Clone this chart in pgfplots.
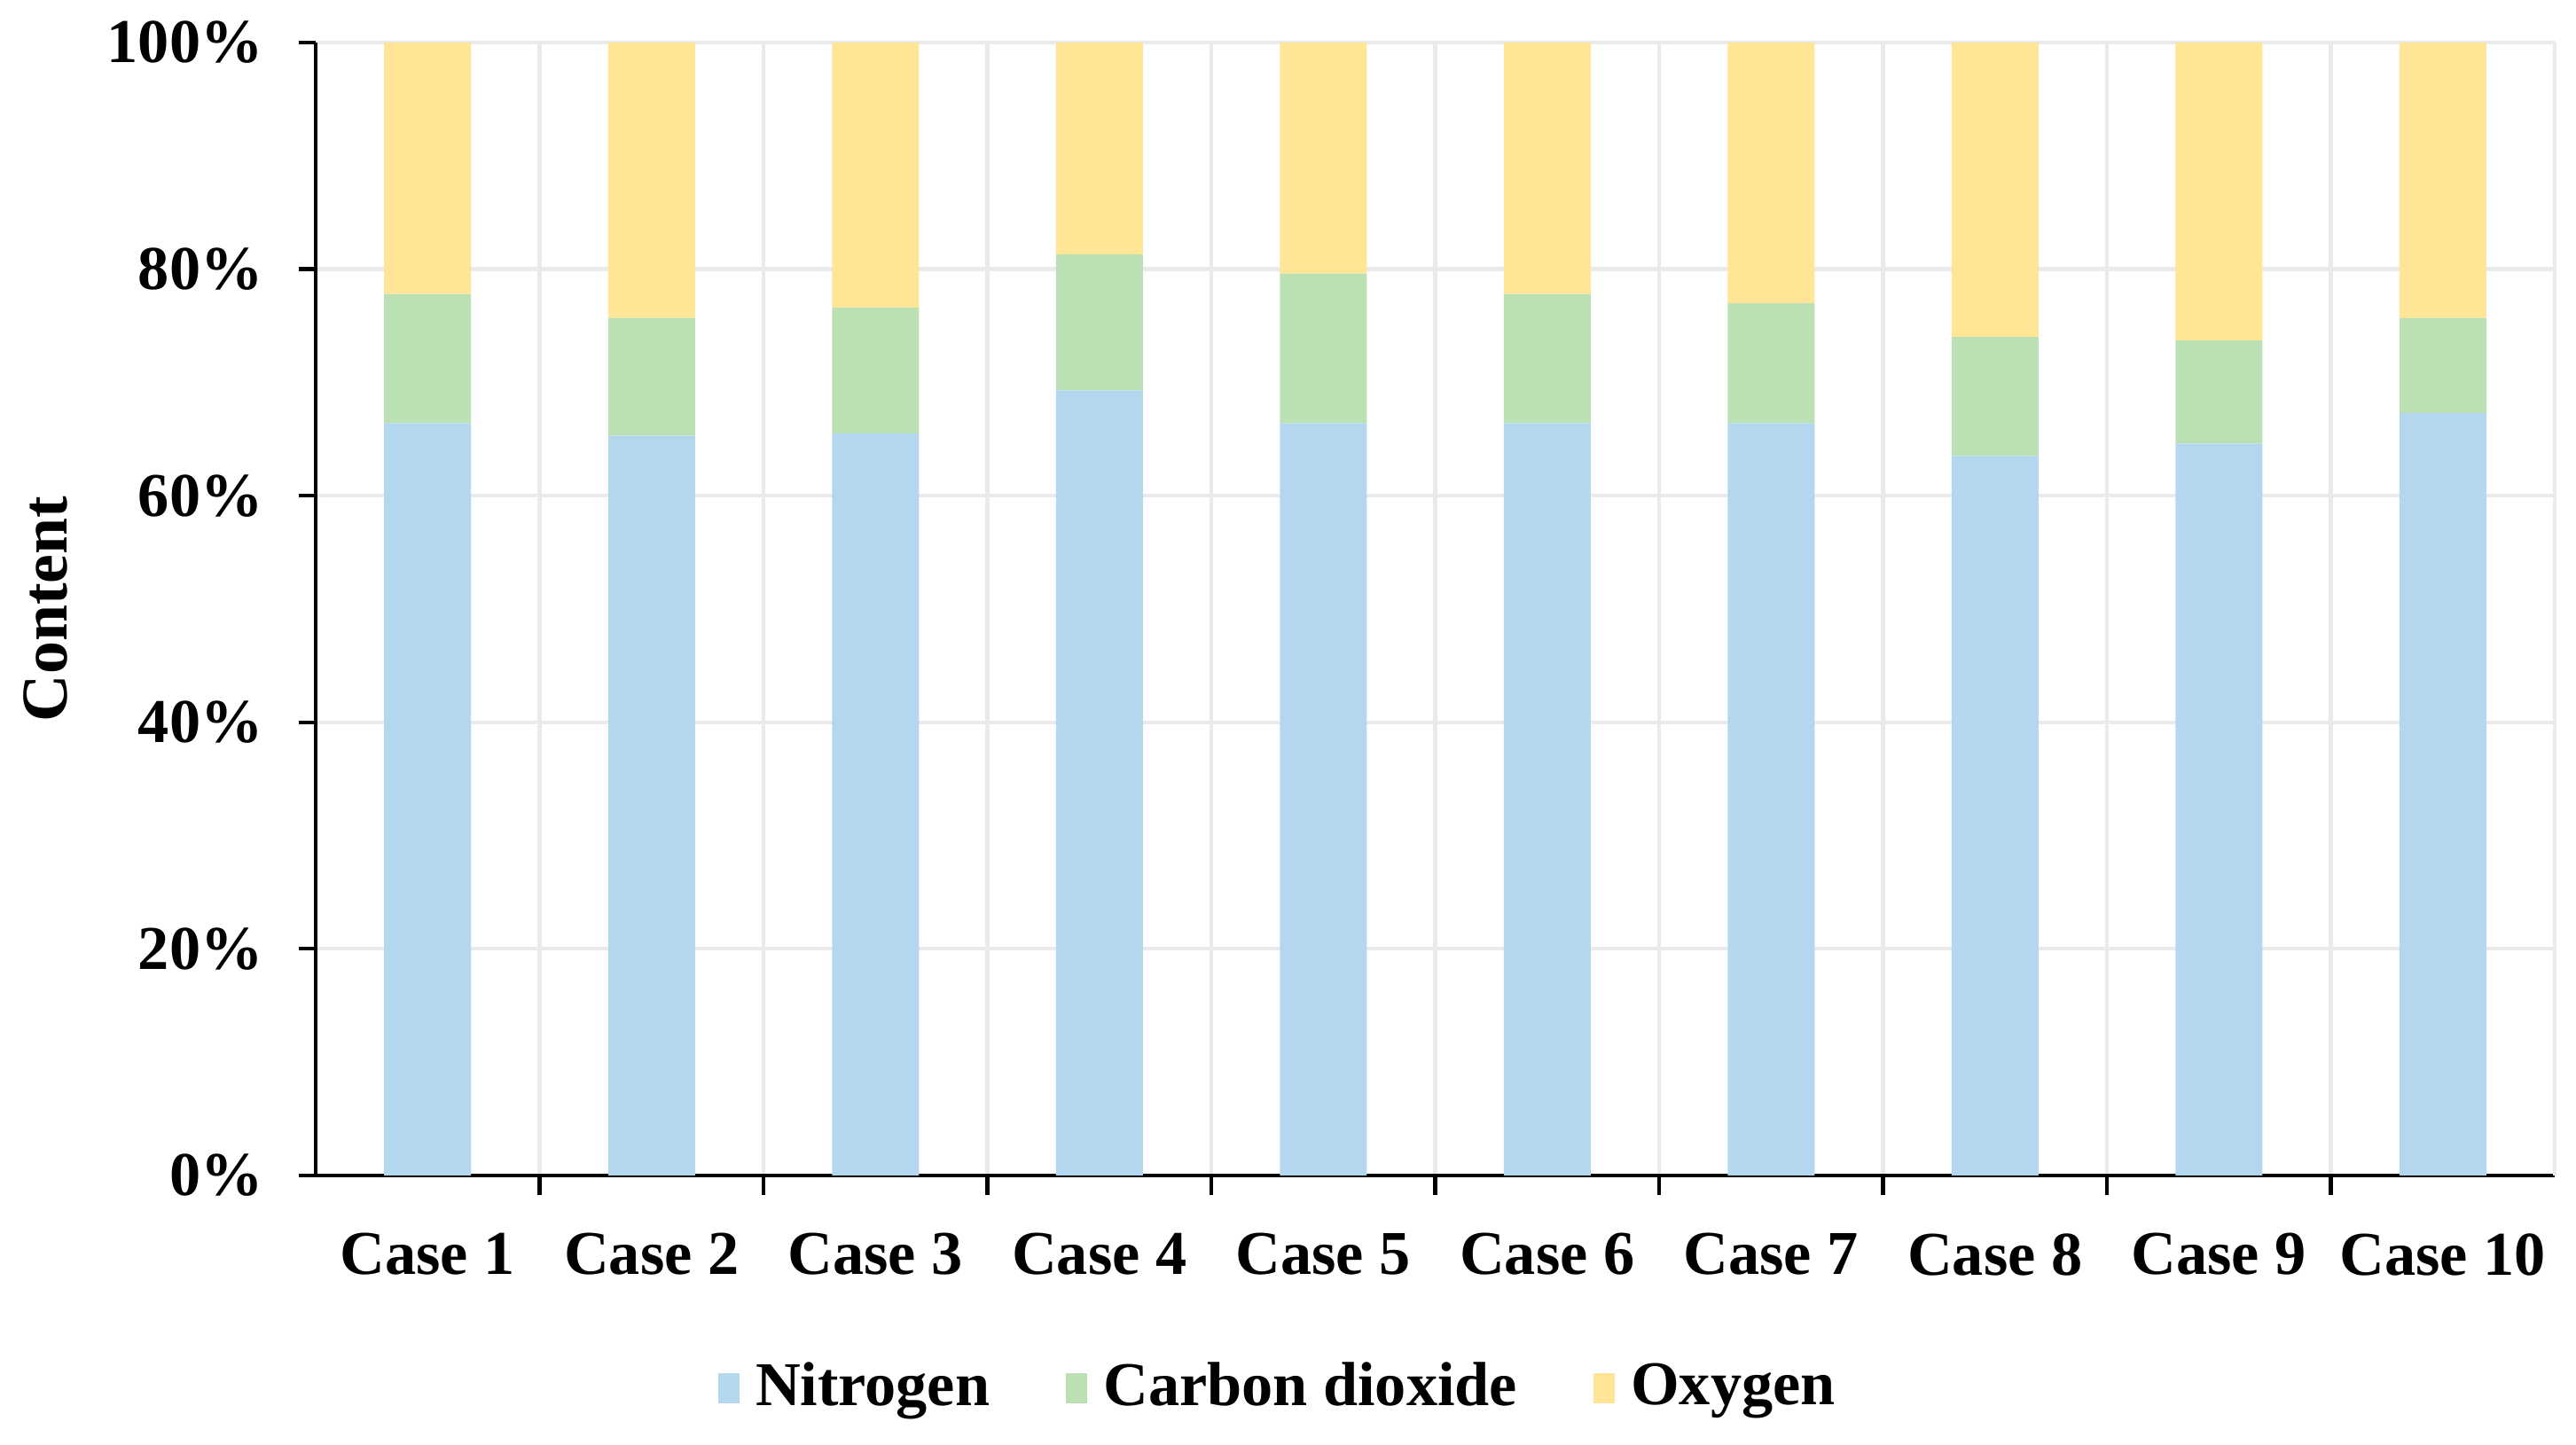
\documentclass[border=0pt]{standalone}
\usepackage{fontspec}
\setmainfont{Liberation Serif}
\usepackage{pgfplots}
\pgfplotsset{compat=1.18}
\usepackage{pgfplotstable}

\definecolor{nblue}{HTML}{B3D7EE}
\definecolor{cgreen}{HTML}{BBE0B3}
\definecolor{oyellow}{HTML}{FFE595}
\definecolor{gridgray}{HTML}{EAEAEA}

% case, nitrogen, carbon dioxide, oxygen (percent)
\pgfplotstableread{
x  n     c     o
1  66.4  11.4  22.2
2  65.3  10.4  24.3
3  65.5  11.1  23.4
4  69.3  12.0  18.7
5  66.4  13.2  20.4
6  66.4  11.4  22.2
7  66.4  10.6  23.0
8  63.5  10.5  26.0
9  64.6   9.1  26.3
10 67.3   8.4  24.3
}\gasdata

\begin{document}
\begin{tikzpicture}
\begin{axis}[
  scale only axis,
  width=126.25mm, height=63.9mm,
  ybar stacked, bar width=4.9mm,
  xmin=0.5, xmax=10.5,
  ymin=0, ymax=100,
  axis lines*=left,
  axis line style={line width=0.6pt},
  xtick={1,...,10},
  xticklabels={Case 1,Case 2,Case 3,Case 4,Case 5,Case 6,Case 7,Case 8,Case 9,Case 10},
  major x tick style={draw=none},
  minor xtick={1.5,2.5,...,9.5},
  minor x tick style={line width=0.6pt, black},
  xminorgrids=true,
  minor grid style={gridgray, line width=0.6pt},
  extra x ticks={10.5},
  extra x tick labels={},
  extra x tick style={grid=major, major tick length=0pt, major grid style={gridgray, line width=0.6pt}},
  ytick={0,20,...,100},
  yticklabels={0\%,20\%,40\%,60\%,80\%,100\%},
  ymajorgrids=true,
  major grid style={gridgray, line width=0.6pt},
  tick align=outside,
  major tick length=0.93mm,
  minor tick length=1.1mm,
  y tick style={line width=0.6pt, black},
  tick label style={font=\fontsize{10}{12}\selectfont\bfseries},
  yticklabel style={xshift=-0.8mm},
  xticklabel style={yshift=-1.1mm},
  ylabel={Content},
  ylabel style={font=\fontsize{10.5}{12}\selectfont\bfseries, at={(axis description cs:-0.1206,0.5)}, anchor=center},
  legend columns=3,
  legend style={at={(axis description cs:0.432,-0.188)}, anchor=center, draw=none,
    font=\fontsize{10}{12}\selectfont\bfseries,
    /tikz/every odd column/.append style={column sep=0.2mm},
    /tikz/every even column/.append style={column sep=3.6mm}},
  legend image code/.code={\draw[#1, draw=none] (0mm,-0.85mm) rectangle (1.2mm,0.85mm);},
  clip=false,
]
\addplot[fill=nblue, draw=none] table[x=x, y=n] {\gasdata};
\addplot[fill=cgreen, draw=none] table[x=x, y=c] {\gasdata};
\addplot[fill=oyellow, draw=none] table[x=x, y=o] {\gasdata};
\legend{Nitrogen, Carbon dioxide, Oxygen}
\coordinate (bbA) at (rel axis cs:0,0);
\coordinate (bbB) at (rel axis cs:1,1);
\end{axis}
\pgfresetboundingbox
\path ([xshift=-17.8mm, yshift=-15.2mm]bbA) rectangle ([xshift=1.2mm, yshift=2.4mm]bbB);
\end{tikzpicture}
\end{document}
